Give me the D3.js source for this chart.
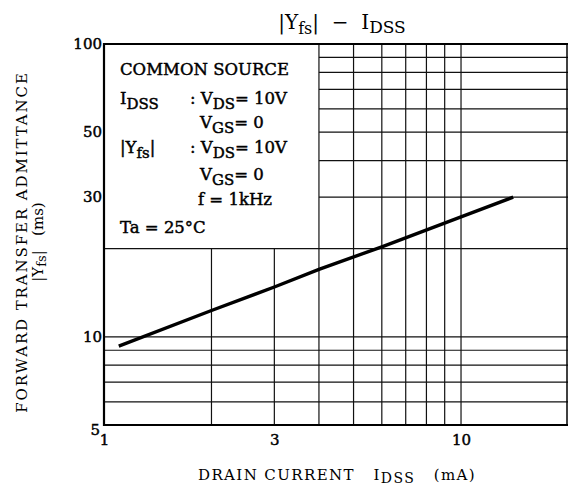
<!DOCTYPE html>
<html>
<head>
<meta charset="utf-8">
<script src="https://cdn.jsdelivr.net/npm/d3@7"></script>
<style>
  body { margin: 0; background: #fff; }
  svg { display: block; }
  text { font-family: "DejaVu Serif", "Liberation Serif", serif; fill: #000; white-space: pre; }
  .heavy { stroke: #000; stroke-width: 0.45px; }
</style>
</head>
<body>
<div id="chart"></div>
<script>
// |Yfs| - IDSS curve
var idss = [1.1, 2, 3, 4, 6, 10, 14];          // mA
var yfs  = [9.3, 12.3, 14.8, 17.0, 20.3, 25.7, 30]; // mS

var xTicks = [1, 3, 10];
var yTicks = [5, 10, 30, 50, 100];

// grid lines of the log paper
var xGridFull  = [4, 5, 6, 7, 8, 9, 10];   // full height
var xGridLower = [2, 3];                   // only under the condition box
var yGridFull  = [6, 7, 8, 9, 10, 20];     // full width
var yGridUpper = [30, 40, 50, 60, 70, 80, 90]; // only right of the box

var boxCorner = [4, 20]; // condition box spans x 1..4, y 20..100

var W = 568, H = 488;
var margin = { top : 44, right : 0, bottom : 63, left : 104 };

var svg = d3.select("#chart").append("svg")
    .attr("width", W)
    .attr("height", H);

var x = d3.scaleLog().domain([1, 20]).range([margin.left, 568.5]);
var y = d3.scaleLog().domain([5, 100]).range([H - margin.bottom, margin.top]);

var grid = svg.append("g")
    .attr("stroke", "#111")
    .attr("stroke-width", 1.2)
    .attr("fill", "none");

grid.selectAll(".vfull").data(xGridFull).enter().append("line")
    .attr("x1", function(d) { return x(d); })
    .attr("x2", function(d) { return x(d); })
    .attr("y1", y(100))
    .attr("y2", y(5));

grid.selectAll(".vlow").data(xGridLower).enter().append("line")
    .attr("x1", function(d) { return x(d); })
    .attr("x2", function(d) { return x(d); })
    .attr("y1", y(boxCorner[1]))
    .attr("y2", y(5));

grid.selectAll(".hfull").data(yGridFull).enter().append("line")
    .attr("x1", x(1))
    .attr("x2", x(20))
    .attr("y1", function(d) { return y(d); })
    .attr("y2", function(d) { return y(d); });

grid.selectAll(".hup").data(yGridUpper).enter().append("line")
    .attr("x1", x(boxCorner[0]))
    .attr("x2", x(20))
    .attr("y1", function(d) { return y(d); })
    .attr("y2", function(d) { return y(d); });

// frame
svg.append("path")
    .attr("d", "M" + x(20) + "," + y(100) + "H" + x(1) + "V" + y(5) + "H" + x(20))
    .attr("fill", "none")
    .attr("stroke", "#000")
    .attr("stroke-width", 2.2);
svg.append("line")
    .attr("x1", W - 1).attr("x2", W - 1)
    .attr("y1", y(100)).attr("y2", y(5))
    .attr("stroke", "#000")
    .attr("stroke-width", 1.5);

// the curve
var line = d3.line()
    .x(function(d) { return x(d[0]); })
    .y(function(d) { return y(d[1]); });

svg.append("path")
    .datum(d3.zip(idss, yfs))
    .attr("d", line)
    .attr("fill", "none")
    .attr("stroke", "#000")
    .attr("stroke-width", 3.4);

// axes, labels only
var yAxis = d3.axisLeft(y).tickValues(yTicks).tickFormat(d3.format("d")).tickSize(0).tickPadding(2);
var xAxis = d3.axisBottom(x).tickValues(xTicks).tickFormat(d3.format("d")).tickSize(0).tickPadding(9);

var gy = svg.append("g")
    .attr("transform", "translate(" + x(1) + ",0)")
    .call(yAxis);
var gx = svg.append("g")
    .attr("transform", "translate(0," + y(5) + ")")
    .call(xAxis);

[gx, gy].forEach(function(g) {
    g.select(".domain").remove();
    g.selectAll("text")
        .attr("class", "heavy")
        .attr("font-family", "DejaVu Serif")
        .attr("font-size", 15)
        .attr("fill", "#000");
});
gy.selectAll(".tick").filter(function(d) { return d === 5; }).select("text")
    .attr("x", -4)
    .attr("dy", "0.6em");

// title
var title = svg.append("text")
    .attr("x", 342)
    .attr("y", 29)
    .attr("text-anchor", "middle")
    .attr("font-size", 20);
title.append("tspan").text("|Y");
title.append("tspan").attr("dy", 5).attr("font-size", 16).text("fs");
title.append("tspan").attr("dy", -5).text("|  \u2212  I");
title.append("tspan").attr("dy", 4).attr("font-size", 17).text("DSS");

// x-axis title
var xt = svg.append("text")
    .attr("x", 337)
    .attr("y", 480)
    .attr("text-anchor", "middle")
    .attr("font-size", 15)
    .attr("letter-spacing", 1.4);
xt.append("tspan").text("DRAIN CURRENT   I");
xt.append("tspan").attr("dy", 3).attr("font-size", 14).text("DSS");
xt.append("tspan").attr("dy", -3).text("   (mA)");

// y-axis title, two lines rotated
var yt = svg.append("g").attr("transform", "translate(27,242) rotate(-90)");
yt.append("text")
    .attr("text-anchor", "middle")
    .attr("font-size", 15)
    .attr("letter-spacing", 1.9)
    .text("FORWARD TRANSFER ADMITTANCE");
var yt2 = yt.append("text")
    .attr("y", 16)
    .attr("text-anchor", "middle")
    .attr("font-size", 15);
yt2.append("tspan").text("|Y");
yt2.append("tspan").attr("dy", 3).attr("font-size", 13).text("fs");
yt2.append("tspan").attr("dy", -3).text("|   (ms)");

// measurement conditions box text
var cond = [
    { x : 120, y : 75,  main : "COMMON SOURCE", sub : "", rest : "" },
    { x : 120, y : 104, main : "I", sub : "DSS", rest : "" },
    { x : 190, y : 104, main : ": V", sub : "DS", rest : "= 10V" },
    { x : 200, y : 128, main : "V", sub : "GS", rest : "= 0" },
    { x : 120, y : 153, main : "|Y", sub : "fs", rest : "|" },
    { x : 190, y : 153, main : ": V", sub : "DS", rest : "= 10V" },
    { x : 200, y : 180, main : "V", sub : "GS", rest : "= 0" },
    { x : 198, y : 205, main : "f = 1kHz", sub : "", rest : "" },
    { x : 120, y : 233, main : "Ta = 25\u00b0C", sub : "", rest : "" }
];

var ct = svg.selectAll(".cond").data(cond).enter().append("text")
    .attr("class", "cond heavy")
    .attr("x", function(d) { return d.x; })
    .attr("y", function(d) { return d.y; })
    .attr("font-size", 16.5);
ct.append("tspan").text(function(d) { return d.main; });
ct.append("tspan")
    .attr("dy", function(d) { return d.sub ? 5 : 0; })
    .attr("font-size", 15)
    .text(function(d) { return d.sub; });
ct.append("tspan")
    .attr("dy", function(d) { return d.sub ? -5 : 0; })
    .text(function(d) { return d.rest; });
</script>
</body>
</html>
